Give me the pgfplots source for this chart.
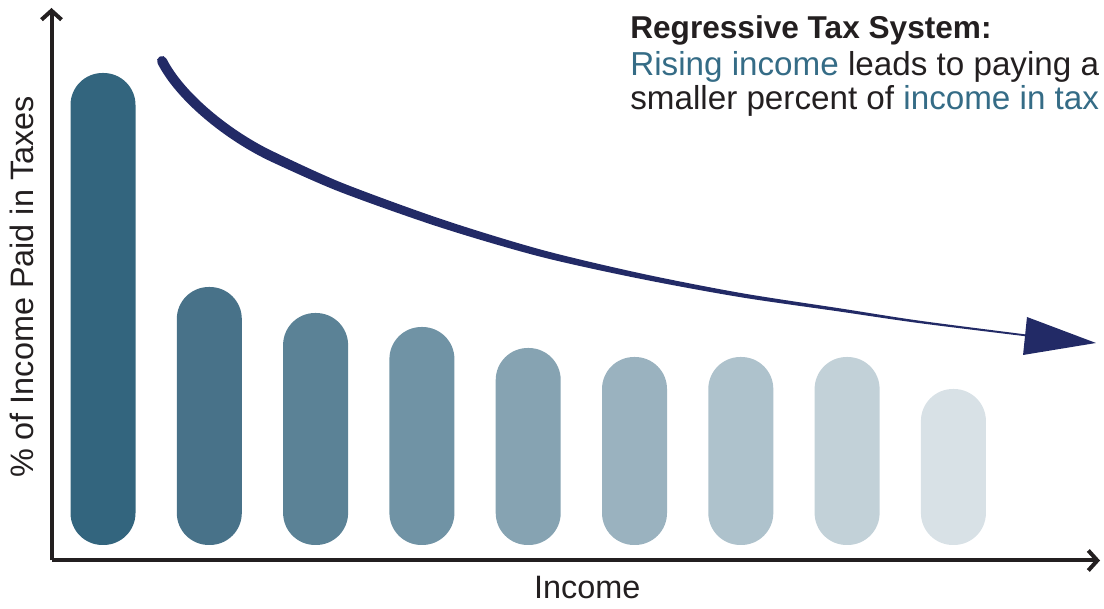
\documentclass[border=0pt]{standalone}
\usepackage{fontspec}
\setmainfont{Liberation Sans}
\usepackage{pgfplots}
\pgfplotsset{compat=1.18}
\usetikzlibrary{arrows.meta}
\definecolor{axiscol}{HTML}{231F20}
\definecolor{navy}{HTML}{222A66}
\definecolor{tealtxt}{HTML}{356C86}
\definecolor{c1}{HTML}{33657E}
\definecolor{c2}{HTML}{487289}
\definecolor{c3}{HTML}{5B8296}
\definecolor{c4}{HTML}{7093A5}
\definecolor{c5}{HTML}{86A3B2}
\definecolor{c6}{HTML}{9AB2BF}
\definecolor{c7}{HTML}{AEC2CC}
\definecolor{c8}{HTML}{C2D1D8}
\definecolor{c9}{HTML}{D8E1E6}
\begin{document}
\begin{tikzpicture}
\path[use as bounding box] (-25.75pt,-24.25pt) rectangle (526.25pt,280.25pt);
\begin{axis}[
  scale only axis, width=524.25pt, height=276.25pt,
  xmin=0.5155, xmax=10.379, ymin=-1.55, ymax=53.7,
  axis lines=left,
  axis line style={line width=2pt, draw=axiscol, -{Straight Barb[length=4.5pt,width=10pt]}},
  xtick=\empty, ytick=\empty,
  clip=false,
  ybar, bar width=32.5pt,
  every axis plot/.append style={bar shift=0pt, draw=none, rounded corners=16pt},
  xlabel={Income}, ylabel={\% of Income Paid in Taxes},
  label style={font=\fontsize{16.2}{19}\selectfont, text=axiscol, inner sep=0pt},
  xlabel style={at={(rel axis cs:0.511,-0.0679)}, anchor=base},
  ylabel style={at={(rel axis cs:-0.0176,0.495)}, anchor=base},
]
\addplot[fill=c1] coordinates {(1,47.2)};
\addplot[fill=c2] coordinates {(2,25.8)};
\addplot[fill=c3] coordinates {(3,23.2)};
\addplot[fill=c4] coordinates {(4,21.8)};
\addplot[fill=c5] coordinates {(5,19.7)};
\addplot[fill=c6] coordinates {(6,18.8)};
\addplot[fill=c7] coordinates {(7,18.8)};
\addplot[fill=c8] coordinates {(8,18.8)};
\addplot[fill=c9] coordinates {(9,15.6)};
% arrow annotation: thick start, then tapering body
\draw[navy, line width=5pt, line cap=round] (1.5550,48.40) .. controls (1.7244,44.84) and (2.1736,40.925) .. (2.5992,38.80);
\fill[navy] plot[smooth] coordinates {(2.6193,39.2525) (3.2448,36.231) (4.1823,32.590) (5.1195,29.538) (6.0570,27.164) (6.9958,25.207) (7.9355,23.658) (8.6874,22.419) (9.768,20.94)}
  -- plot[smooth] coordinates {(9.768,20.76) (8.6842,22.181) (7.9310,23.342) (6.9892,24.793) (6.0465,26.636) (5.1025,28.862) (4.1583,31.810) (3.2143,35.369) (2.5793,38.3475)} -- cycle;
\fill[navy] (9.692,22.8) -- (10.341,20.2) -- (9.655,19.0) -- cycle;
\node[anchor=base west, inner sep=0pt, font=\bfseries\fontsize{15.8}{19}\selectfont, text=axiscol] at (rel axis cs:0.5517,0.9439) {Regressive Tax System:};
\node[anchor=base west, inner sep=0pt, font=\fontsize{16.6}{19}\selectfont, text=axiscol] at (rel axis cs:0.5517,0.8787) {\textcolor{tealtxt}{Rising income} leads to paying a};
\node[anchor=base west, inner sep=0pt, font=\fontsize{16.6}{19}\selectfont, text=axiscol] at (rel axis cs:0.5517,0.8154) {smaller percent of \textcolor{tealtxt}{income in tax}};
\end{axis}
\end{tikzpicture}
\end{document}
